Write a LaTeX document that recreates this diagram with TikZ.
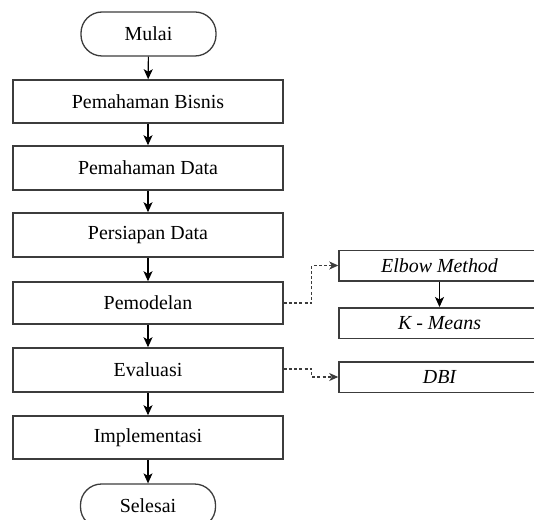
\documentclass[tikz,border=0pt]{standalone}
\usepackage{fontspec}
\setmainfont{Liberation Serif}
\usetikzlibrary{arrows.meta}
\definecolor{boxline}{RGB}{60,60,60}
\begin{document}
\begin{tikzpicture}[x=1bp,y=-1bp,
  every node/.style={font=\fontsize{20}{24}\selectfont, inner sep=0pt},
  mainbox/.style={draw=boxline, line width=1.5bp, rectangle, minimum width=270bp},
  sidebox/.style={draw=boxline, line width=1.5bp, rectangle, minimum width=201bp, minimum height=30.5bp, font=\fontsize{20}{24}\selectfont\itshape},
  termbox/.style={draw=boxline, line width=1.3bp, rectangle, rounded corners=21bp, minimum width=135bp, minimum height=44bp},
  flow/.style={draw=black, line width=1.1bp, -{Stealth[length=10bp,width=9bp,inset=2.5bp]}},
  dashflow/.style={draw=boxline, line width=1.2bp, dash pattern=on 3bp off 2.2bp, -{Stealth[length=9bp,width=8bp,inset=2.5bp]}}
]
\useasboundingbox (0,0) rectangle (534,520);
\node[termbox] (mulai) at (148.5,34) {Mulai};
\node[mainbox, minimum height=43bp] (bisnis) at (148,101.5) {Pemahaman Bisnis};
\node[mainbox, minimum height=44bp] (data) at (148,168) {Pemahaman Data};
\node[mainbox, minimum height=44bp] (persiapan) at (148,235) {Persiapan Data};
\node[mainbox, minimum height=42bp] (pemodelan) at (148,303) {Pemodelan};
\node[mainbox, minimum height=44bp] (evaluasi) at (148,370) {Evaluasi};
\node[mainbox, minimum height=43bp] (impl) at (148,437.5) {Implementasi};
\node[termbox] (selesai) at (148,506) {Selesai};

\node[sidebox] (elbow) at (439.5,265.5) {Elbow Method};
\node[sidebox] (kmeans) at (439.5,323) {K - Means};
\node[sidebox] (dbi) at (439.5,377) {DBI};

\draw[flow] (mulai) -- (bisnis);
\draw[flow] (bisnis) -- (data);
\draw[flow] (data) -- (persiapan);
\draw[flow] (persiapan) -- (pemodelan);
\draw[flow] (pemodelan) -- (evaluasi);
\draw[flow] (evaluasi) -- (impl);
\draw[flow] (impl) -- (selesai);
\draw[flow] (elbow) -- (kmeans);

\draw[dashflow] (pemodelan.east) -- ++(28,0) |- (elbow.west);
\draw[dashflow] ([yshift=1bp]evaluasi.east) -- ++(28,0) |- (dbi.west);
\end{tikzpicture}
\end{document}
